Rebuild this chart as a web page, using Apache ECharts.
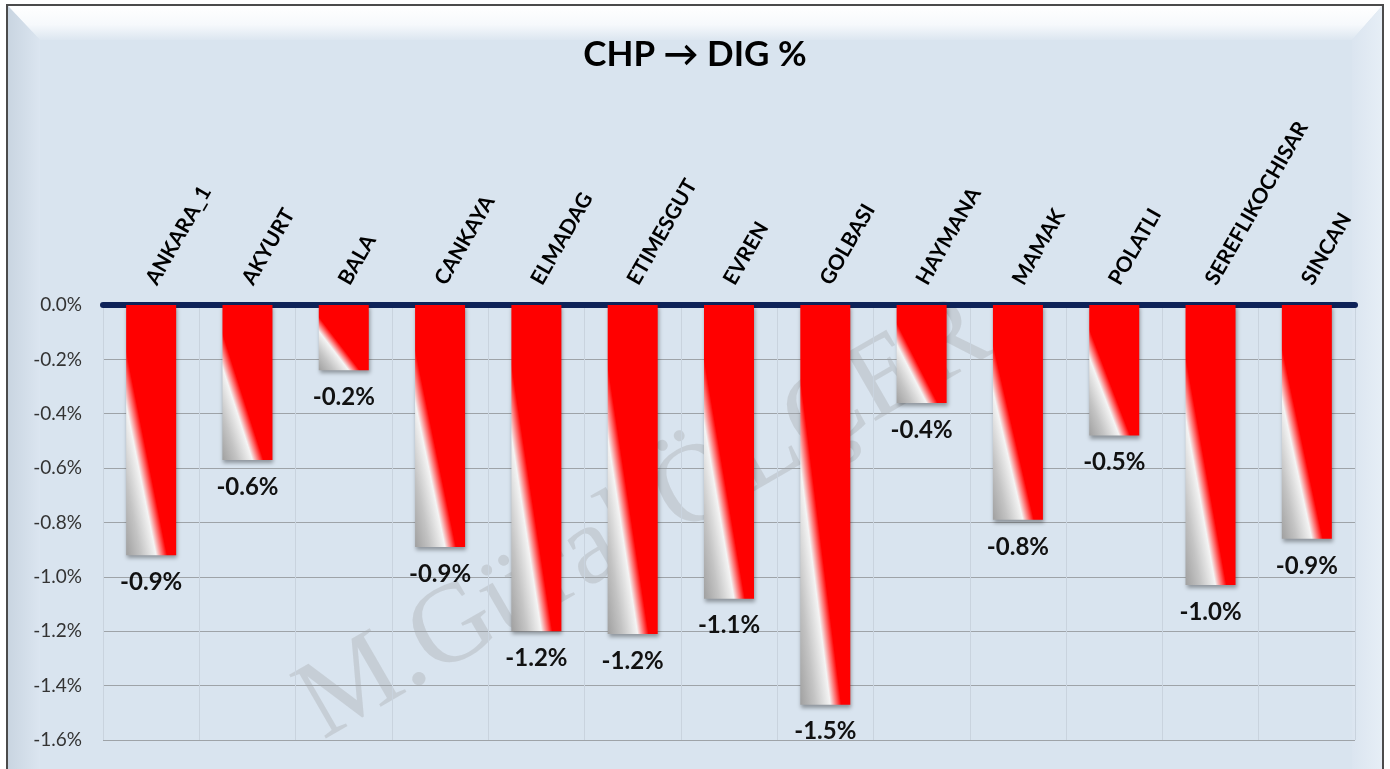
<!DOCTYPE html>
<html>
<head>
<meta charset="utf-8">
<script src="https://cdn.jsdelivr.net/npm/echarts@6/dist/echarts.min.js"></script>
<style>
  html, body { margin: 0; padding: 0; background: #fff; }
  #main { width: 1390px; height: 769px; }
</style>
</head>
<body>
<div id="main"></div>
<script>
let districts = ["ANKARA_1", "AKYURT", "BALA", "CANKAYA", "ELMADAG", "ETIMESGUT", "EVREN",
    "GOLBASI", "HAYMANA", "MAMAK", "POLATLI", "SEREFLIKOCHISAR", "SINCAN"];
let changes = [-0.92, -0.57, -0.24, -0.89, -1.20, -1.21, -1.08, -1.47, -0.36, -0.79, -0.48, -1.03, -0.86];
let yTicks = { min: -1.6, max: 0, step: 0.2 };

let chartDom = document.getElementById("main");
let myChart = echarts.init(chartDom);
let option;

let barW = 50;
let plotH = 435;

// excel-like gradient: isolines follow the bar's top-left -> bottom-right diagonal
function barColor(v) {
    let h = Math.abs(v) / 1.6 * plotH;
    let w = barW;
    let l2 = h * h + w * w;
    return new echarts.graphic.LinearGradient(0, 1, 2 * h * h / l2, 1 - 2 * w * w / l2, [
        { offset: 0, color: "#a0a0a0" },
        { offset: 0.15, color: "#c4c4c4" },
        { offset: 0.3, color: "#f4f4f4" },
        { offset: 0.37, color: "#ff5a5a" },
        { offset: 0.41, color: "#ff0000" },
        { offset: 1, color: "#ff0000" },
    ]);
}

let barData = changes.map((v) => ({ value: v, itemStyle: { color: barColor(v) } }));

option = {
    backgroundColor: "#ffffff",
    title: {
        text: "CHP \u2192 DIG %",
        left: "center",
        top: 32,
        textStyle: {
            fontFamily: "Lato",
            fontWeight: "bold",
            fontSize: 35,
            color: "#000",
        },
    },
    grid: {
        left: 103,
        right: 35,
        top: 305,
        bottom: 29,
    },
    xAxis: {
        type: "category",
        position: "top",
        data: districts,
        axisLine: {
            show: true,
            onZero: false,
            lineStyle: { color: "#0e2258", width: 6 },
        },
        axisTick: { show: false },
        splitLine: {
            show: true,
            lineStyle: { color: "#c9d3de", width: 1 },
        },
        axisLabel: {
            rotate: -60,
            margin: 22,
            interval: 0,
            fontFamily: "Lato",
            fontWeight: "bold",
            fontSize: 21,
            color: "#000",
        },
    },
    yAxis: {
        type: "value",
        min: yTicks.min,
        max: yTicks.max,
        interval: yTicks.step,
        axisLine: { show: false },
        axisTick: { show: false },
        splitLine: {
            lineStyle: { color: "#9ea3a8", width: 1 },
        },
        axisLabel: {
            margin: 21,
            fontFamily: "Lato",
            fontSize: 19,
            color: "#333",
            formatter: (v) => v.toFixed(1) + "%",
        },
    },
    graphic: {
        elements: [
            {
                type: "rect",
                z: -10,
                shape: { x: 7, y: 5, width: 1376, height: 790 },
                style: { fill: "#d9e4ef", stroke: "#4b4b4b", lineWidth: 2 },
            },
            {
                type: "polygon",
                z: -9,
                shape: { points: [[8, 6], [1382, 6], [1352, 40], [40, 40]] },
                style: {
                    fill: new echarts.graphic.LinearGradient(0, 0, 0, 1, [
                        { offset: 0, color: "#ffffff" },
                        { offset: 0.55, color: "#f6f9fc" },
                        { offset: 1, color: "#dce6f0" },
                    ]),
                },
            },
            {
                type: "polygon",
                z: -9,
                shape: { points: [[8, 6], [40, 40], [40, 769], [8, 769]] },
                style: {
                    fill: new echarts.graphic.LinearGradient(0, 0, 1, 0, [
                        { offset: 0, color: "#c9d5e1" },
                        { offset: 1, color: "#dbe5f0" },
                    ]),
                },
            },
            {
                type: "polygon",
                z: -9,
                shape: { points: [[1382, 6], [1352, 40], [1352, 769], [1382, 769]] },
                style: {
                    fill: new echarts.graphic.LinearGradient(0, 0, 1, 0, [
                        { offset: 0, color: "#dbe5f0" },
                        { offset: 1, color: "#e6eef6" },
                    ]),
                },
            },
            {
                type: "text",
                z: -5,
                x: 645,
                y: 520,
                rotation: Math.PI / 6,
                style: {
                    text: "M.G\u00fcral \u00d6L\u00c7ER",
                    font: "112px 'Liberation Serif'",
                    fill: "rgba(150, 150, 150, 0.28)",
                    align: "center",
                    verticalAlign: "middle",
                },
            },
        ],
    },
    series: [
        {
            name: "CHP \u2192 DIG",
            type: "bar",
            data: barData,
            barWidth: barW,
            itemStyle: {
                shadowColor: "rgba(0, 0, 0, 0.35)",
                shadowBlur: 4,
                shadowOffsetX: 1,
                shadowOffsetY: 3,
            },
            label: {
                show: true,
                position: "bottom",
                distance: 15,
                fontFamily: "Lato",
                fontWeight: "bold",
                fontSize: 24,
                color: "#111",
                formatter: (p) => p.value.toFixed(1) + "%",
            },
        },
    ],
    animation: false,
};

myChart.setOption(option);
</script>
</body>
</html>
